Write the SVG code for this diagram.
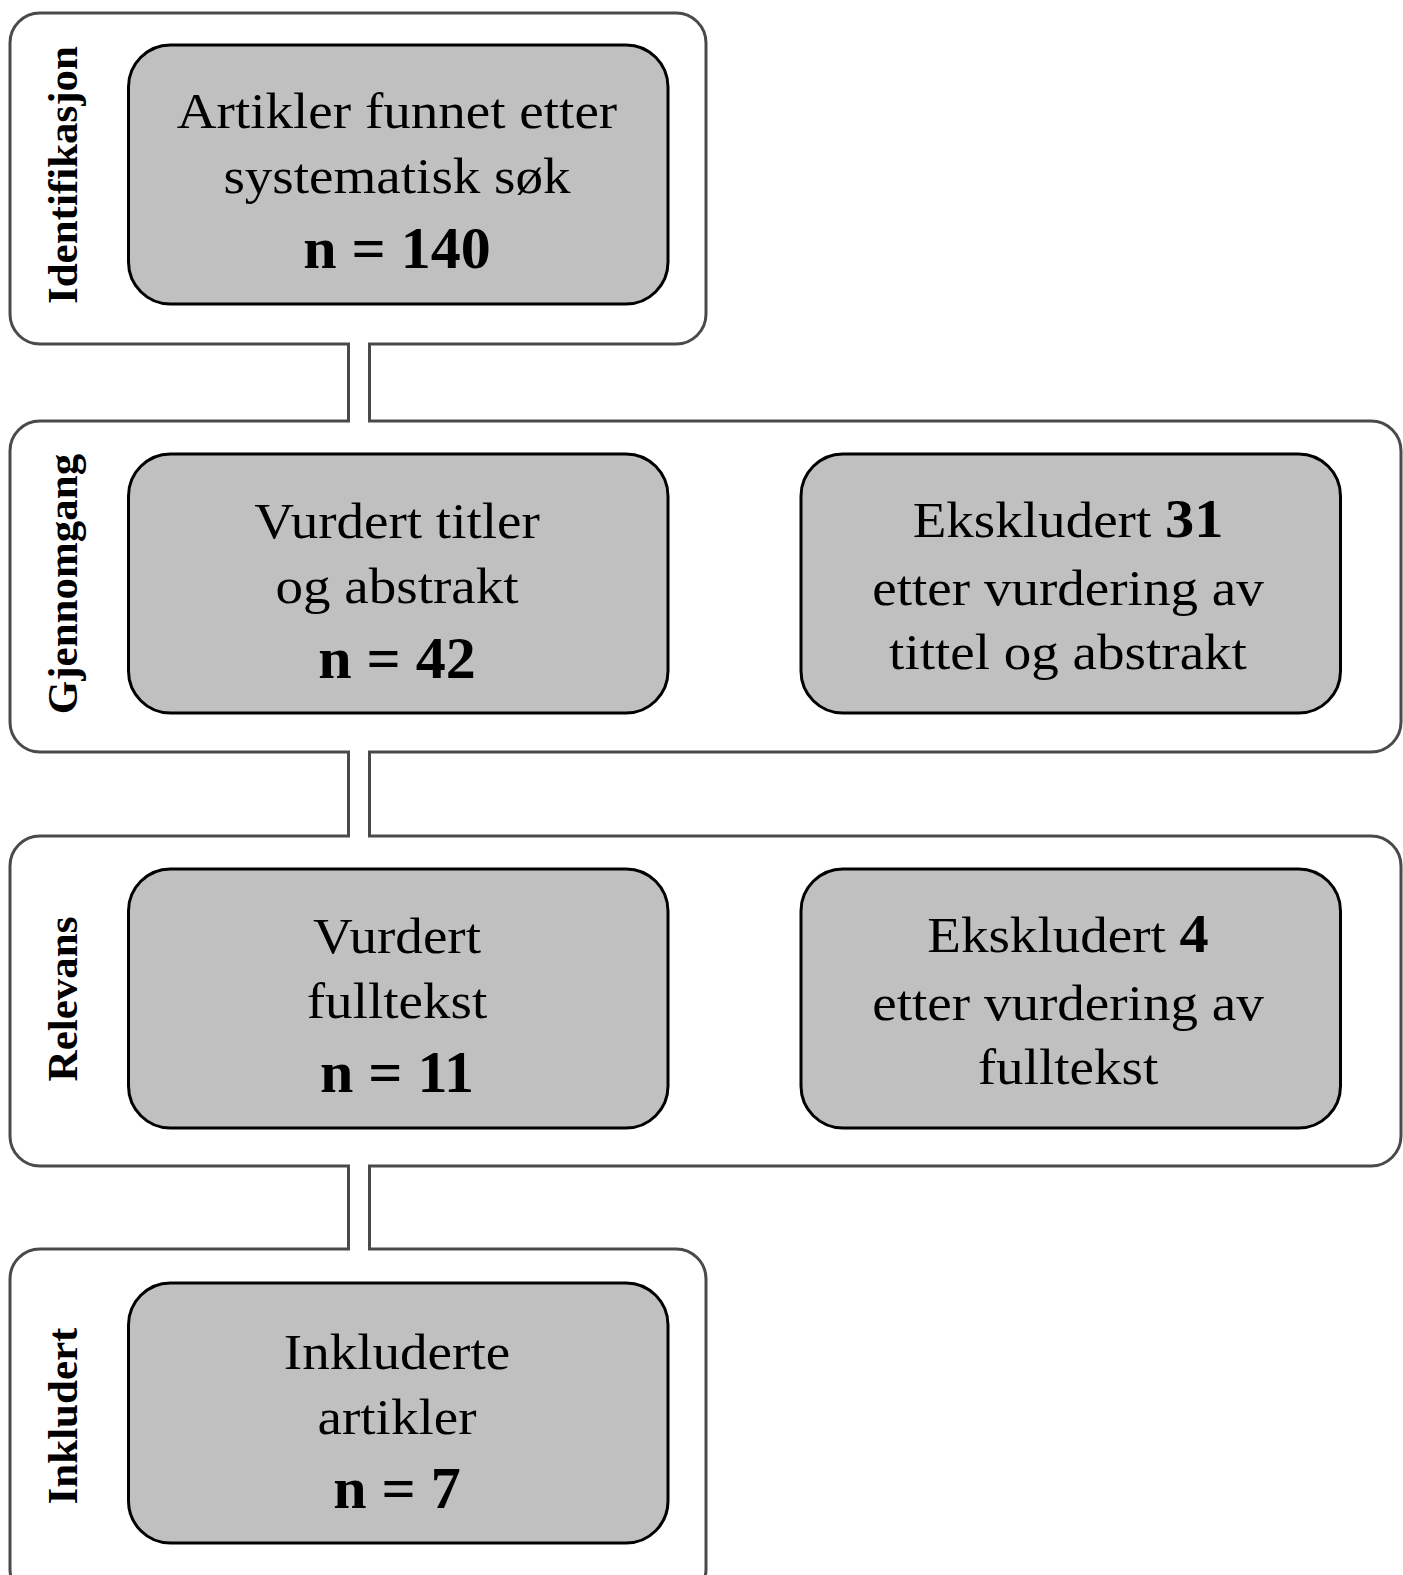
<svg xmlns="http://www.w3.org/2000/svg" width="1403" height="1575" viewBox="0 0 1403 1575">
<style>
.panel{fill:#fff;stroke:#4a4a4a;stroke-width:3}
.box{fill:#c0c0c0;stroke:#000;stroke-width:3}
.t{font-family:"Liberation Serif","Times New Roman",serif;font-size:51px;fill:#000;text-anchor:middle}
.b{font-family:"Liberation Serif","Times New Roman",serif;font-size:60px;font-weight:bold;fill:#000;text-anchor:middle}
.bi{font-weight:bold;font-size:54px}
.lab{font-family:"Liberation Serif","Times New Roman",serif;font-size:43px;font-weight:bold;fill:#000;text-anchor:middle}
.ch{stroke:#4a4a4a;stroke-width:3;fill:none}
</style>
<rect width="1403" height="1575" fill="#fff"/>
<g id="panels">
<g id="panel-identifikasjon">
<rect class="panel" x="10" y="13" width="696" height="331" rx="30"/>
<text class="lab" transform="translate(77 175) rotate(-90)">Identifikasjon</text>
</g>
<g id="panel-gjennomgang">
<rect class="panel" x="10" y="421" width="1391" height="331" rx="30"/>
<text class="lab" transform="translate(77 584) rotate(-90)">Gjennomgang</text>
</g>
<g id="panel-relevans">
<rect class="panel" x="10" y="836" width="1391" height="330" rx="30"/>
<text class="lab" transform="translate(77 999) rotate(-90)">Relevans</text>
</g>
<g id="panel-inkludert">
<rect class="panel" x="10" y="1249" width="696" height="350" rx="30"/>
<text class="lab" transform="translate(77 1416) rotate(-90)">Inkludert</text>
</g>
</g>
<g id="connectors">
<rect x="350" y="340" width="18" height="85" fill="#fff"/>
<path class="ch" d="M348.5 344 V421 M369.5 344 V421"/>
<rect x="350" y="748" width="18" height="92" fill="#fff"/>
<path class="ch" d="M348.5 752 V836 M369.5 752 V836"/>
<rect x="350" y="1162" width="18" height="91" fill="#fff"/>
<path class="ch" d="M348.5 1166 V1249 M369.5 1166 V1249"/>
</g>
<g id="node-artikler">
<rect class="box" x="128.5" y="45" width="539.5" height="259" rx="42"/>
<text class="t" transform="translate(397 128) scale(1.08 1)">Artikler funnet etter</text>
<text class="t" transform="translate(397 193) scale(1.08 1)">systematisk søk</text>
<text class="b" x="397" y="268">n = 140</text>
</g>
<g id="node-vurdert-titler">
<rect class="box" x="128.5" y="454" width="539.5" height="259" rx="42"/>
<text class="t" transform="translate(397 538) scale(1.08 1)">Vurdert titler</text>
<text class="t" transform="translate(397 603) scale(1.08 1)">og abstrakt</text>
<text class="b" x="397" y="678">n = 42</text>
</g>
<g id="node-ekskludert-31">
<rect class="box" x="801" y="454" width="539.5" height="259" rx="42"/>
<text class="t" transform="translate(1068 537) scale(1.08 1)">Ekskludert <tspan class="bi">31</tspan></text>
<text class="t" transform="translate(1068 605) scale(1.08 1)">etter vurdering av</text>
<text class="t" transform="translate(1068 669) scale(1.08 1)">tittel og abstrakt</text>
</g>
<g id="node-vurdert-fulltekst">
<rect class="box" x="128.5" y="869" width="539.5" height="259" rx="42"/>
<text class="t" transform="translate(397 953) scale(1.08 1)">Vurdert</text>
<text class="t" transform="translate(397 1018) scale(1.08 1)">fulltekst</text>
<text class="b" x="397" y="1092">n = 11</text>
</g>
<g id="node-ekskludert-4">
<rect class="box" x="801" y="869" width="539.5" height="259" rx="42"/>
<text class="t" transform="translate(1068 952) scale(1.08 1)">Ekskludert <tspan class="bi">4</tspan></text>
<text class="t" transform="translate(1068 1020) scale(1.08 1)">etter vurdering av</text>
<text class="t" transform="translate(1068 1084) scale(1.08 1)">fulltekst</text>
</g>
<g id="node-inkluderte">
<rect class="box" x="128.5" y="1283" width="539.5" height="260" rx="42"/>
<text class="t" transform="translate(397 1369) scale(1.08 1)">Inkluderte</text>
<text class="t" transform="translate(397 1434) scale(1.08 1)">artikler</text>
<text class="b" x="397" y="1508">n = 7</text>
</g>
</svg>
